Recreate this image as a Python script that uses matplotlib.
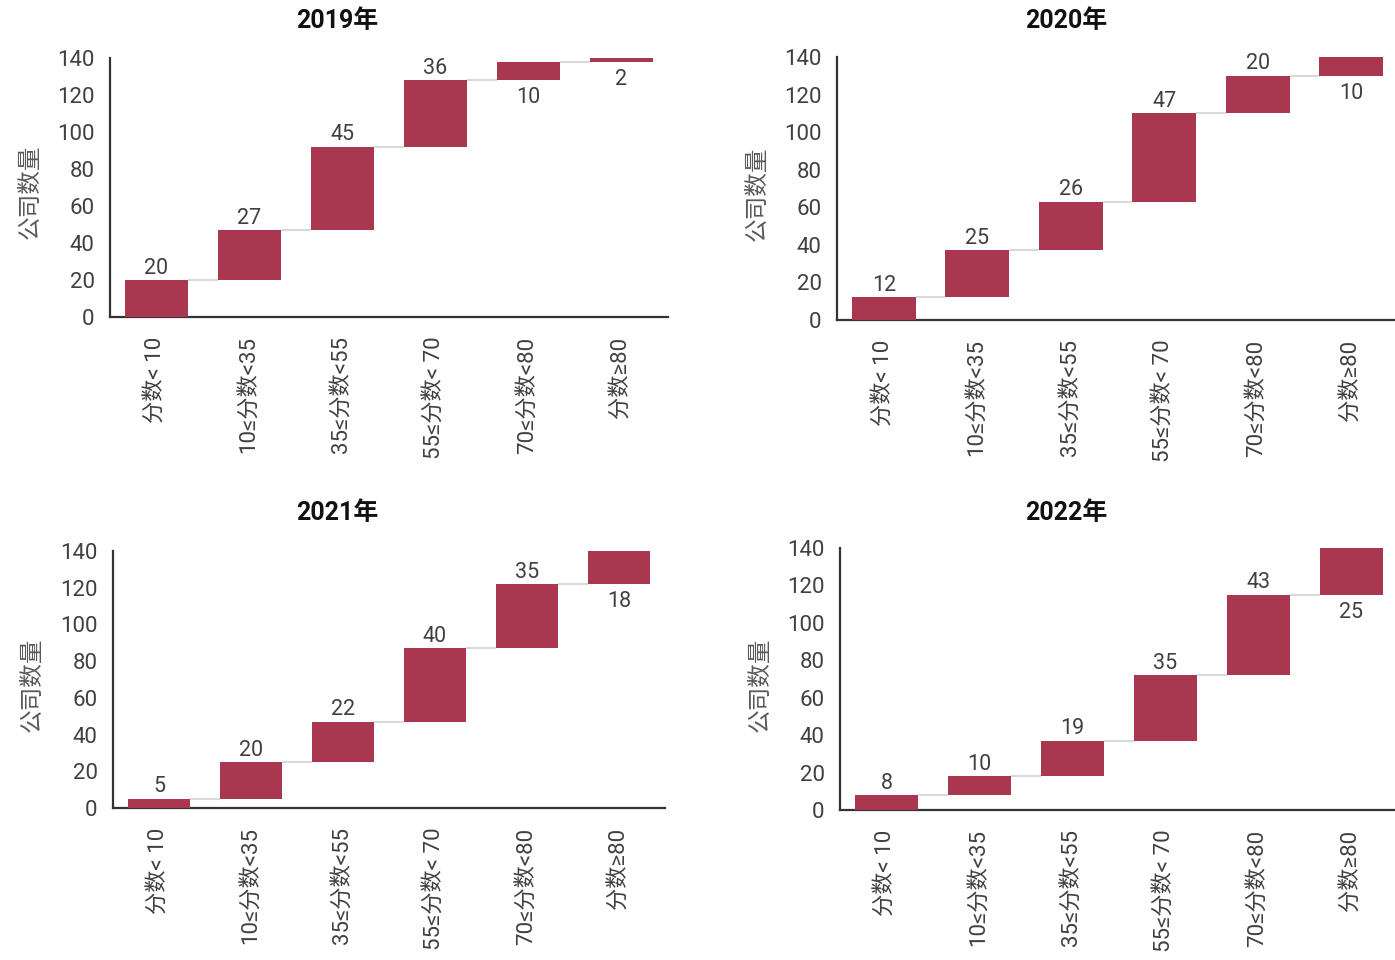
import matplotlib
matplotlib.use('Agg')
import matplotlib.pyplot as plt
import numpy as np

categories = ['分数< 10', '10≤分数<35', '35≤分数<55', '55≤分数< 70', '70≤分数<80', '分数≥80']
years = ['2019年', '2020年', '2021年', '2022年']
counts_2019 = [20, 27, 45, 36, 10, 2]
counts_2020 = [12, 25, 26, 47, 20, 10]
counts_2021 = [5, 20, 22, 40, 35, 18]
counts_2022 = [8, 10, 19, 35, 43, 25]
y_ticks = [0, 20, 40, 60, 80, 100, 120, 140]

BAR = '#a8374f'
TXT = '#404040'
NUM_FONT = ['Roboto', 'DejaVu Sans']
MIX_FONT = ['Roboto', 'Noto Sans CJK SC', 'DejaVu Sans']

plt.rcParams['font.family'] = MIX_FONT

W, H = 1395, 960
fig = plt.figure(figsize=(W / 100, H / 100), dpi=100)

# pixel boxes: left, right, y of value 0, y of value 140
boxes = [
    (110, 668, 317, 58),
    (837, 1398, 320, 57),
    (113, 665, 808, 551),
    (840, 1398, 810, 548),
]
title_pos = [(337, 21), (1066, 21), (337, 513), (1066, 513)]
ylab_pos = [(30, 192), (757, 194), (32, 685), (760, 685)]


def waterfall(ax, counts):
    counts = np.array(counts)
    tops = np.cumsum(counts)
    bottoms = tops - counts
    x = np.arange(len(counts))
    width = 0.68
    ax.bar(x, counts, bottom=bottoms, width=width, color=BAR, zorder=3)
    for i in range(len(counts) - 1):
        ax.plot([x[i] + width / 2, x[i + 1] - width / 2], [tops[i], tops[i]],
                color='#d9d9d9', lw=1.5, zorder=2, solid_capstyle='butt')
    for i, v in enumerate(counts):
        if tops[i] > 132:
            ax.annotate(str(v), (x[i], bottoms[i]), xytext=(0, -5), textcoords='offset points',
                        ha='center', va='top', fontsize=15.5, color=TXT, family=NUM_FONT)
        else:
            ax.annotate(str(v), (x[i], tops[i]), xytext=(0, 1), textcoords='offset points',
                        ha='center', va='bottom', fontsize=15.5, color=TXT, family=NUM_FONT)
    ax.set_xlim(-0.5, len(counts) - 0.5)
    ax.set_ylim(0, 140)
    ax.set_yticks(y_ticks)
    ax.set_xticks(x)
    ax.set_xticklabels(categories, rotation=90, fontsize=16, color=TXT)
    for lab in ax.get_yticklabels():
        lab.set_fontfamily(NUM_FONT)
        lab.set_fontsize(16)
        lab.set_color(TXT)
    ax.tick_params(axis='both', length=0)
    ax.tick_params(axis='y', pad=11)
    ax.tick_params(axis='x', pad=14)
    for side in ['top', 'right']:
        ax.spines[side].set_visible(False)
    for side in ['left', 'bottom']:
        ax.spines[side].set_color('#333333')
        ax.spines[side].set_linewidth(1.6)


all_counts = [counts_2019, counts_2020, counts_2021, counts_2022]
for k in range(4):
    l, r, y0, y1 = boxes[k]
    ax = fig.add_axes([l / W, 1 - y0 / H, (r - l) / W, (y0 - y1) / H])
    waterfall(ax, all_counts[k])
    tx, ty = title_pos[k]
    fig.text(tx / W, 1 - ty / H, years[k], ha='center', va='center', fontsize=18,
             fontweight='bold', color='#111111')
    lx, ly = ylab_pos[k]
    fig.text(lx / W, 1 - ly / H, '公司数量', rotation=90, ha='center', va='center',
             fontsize=17, color='#595959', family=['Noto Sans CJK SC', 'DejaVu Sans'])

fig.savefig('out.png', dpi=100)
